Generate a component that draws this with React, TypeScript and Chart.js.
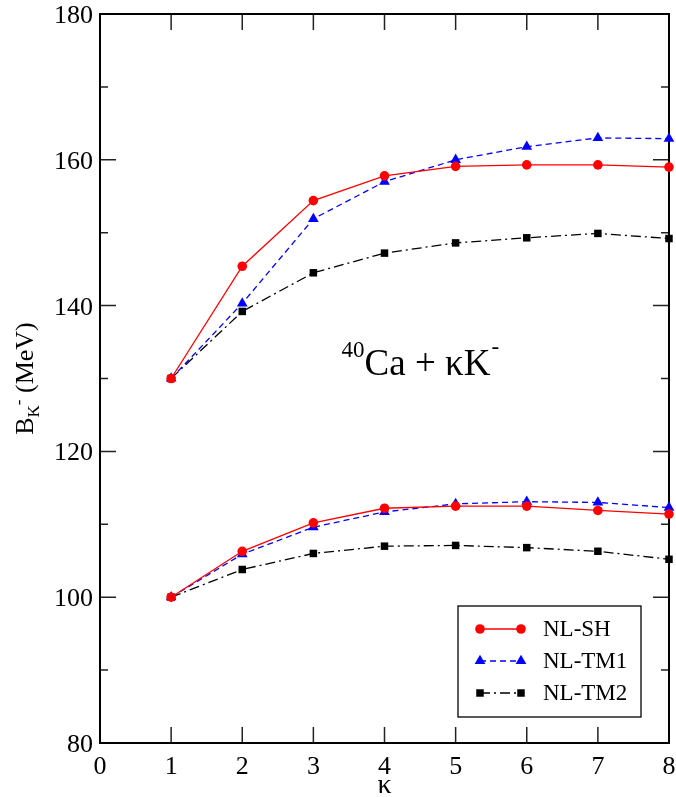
import React, { useEffect, useRef } from "react";
import { Chart, registerables } from "chart.js";

Chart.register(...registerables);

// ---- data ----
const kappa = [1, 2, 3, 4, 5, 6, 7, 8];
const shUpper = [130.0, 145.4, 154.4, 157.8, 159.1, 159.3, 159.3, 159.0];
const tm1Upper = [130.0, 140.3, 151.9, 157.0, 160.0, 161.8, 163.0, 162.9];
const tm2Upper = [130.0, 139.2, 144.5, 147.2, 148.6, 149.3, 149.9, 149.2];
const shLower = [100.0, 106.3, 110.2, 112.2, 112.5, 112.5, 111.9, 111.4];
const tm1Lower = [100.0, 105.9, 109.6, 111.7, 112.8, 113.1, 113.0, 112.3];
const tm2Lower = [100.0, 103.8, 106.0, 107.0, 107.1, 106.8, 106.3, 105.2];

const xTickValues = [0, 1, 2, 3, 4, 5, 6, 7, 8];
const yMajorTicks = [80, 100, 120, 140, 160, 180];
const yMinorTicks = [90, 110, 130, 150, 170];
const legendLabels = ["NL-SH", "NL-TM1", "NL-TM2"];

const SERIF = "'Liberation Serif', 'Times New Roman', 'DejaVu Serif', serif";

type Style = {
  color: string;
  dash: number[];
  shape: "circle" | "triangle" | "rect";
  radius: number;
};

const styles: Style[] = [
  { color: "#ff0000", dash: [], shape: "circle", radius: 4.8 },
  { color: "#0000ff", dash: [6, 4], shape: "triangle", radius: 6.2 },
  { color: "#000000", dash: [10, 4, 2, 4], shape: "rect", radius: 5.3 },
];

function pts(vals: number[]) {
  return kappa.map((k, i) => ({ x: k, y: vals[i] }));
}

function ds(vals: number[], s: Style, label: string) {
  return {
    label,
    data: pts(vals),
    borderColor: s.color,
    backgroundColor: s.color,
    borderWidth: 1.3,
    borderDash: s.dash,
    pointStyle: s.shape,
    pointRadius: s.radius,
    pointBorderWidth: 0,
    pointBackgroundColor: s.color,
    showLine: true,
    tension: 0,
    clip: false as any,
  };
}

function drawMarker(ctx: CanvasRenderingContext2D, s: Style, x: number, y: number) {
  ctx.fillStyle = s.color;
  ctx.beginPath();
  if (s.shape === "circle") {
    ctx.arc(x, y, s.radius, 0, Math.PI * 2);
  } else if (s.shape === "triangle") {
    const r = s.radius;
    ctx.moveTo(x, y - r);
    ctx.lineTo(x + r * Math.sin(Math.PI / 3), y + r * 0.5);
    ctx.lineTo(x - r * Math.sin(Math.PI / 3), y + r * 0.5);
    ctx.closePath();
  } else {
    const h = s.radius * Math.SQRT1_2;
    ctx.rect(x - h, y - h, 2 * h, 2 * h);
  }
  ctx.fill();
}

const decor = {
  id: "decor",
  beforeDatasetsDraw(chart: any) {
    const { ctx, chartArea: a, scales } = chart;
    const x = scales.x;
    const y = scales.y;
    ctx.save();
    ctx.strokeStyle = "#222";
    ctx.lineWidth = 1.5;
    ctx.beginPath();
    for (const v of xTickValues) {
      const px = x.getPixelForValue(v);
      ctx.moveTo(px, a.bottom);
      ctx.lineTo(px, a.bottom - 16);
      ctx.moveTo(px, a.top);
      ctx.lineTo(px, a.top + 16);
    }
    for (const v of yMajorTicks) {
      const py = y.getPixelForValue(v);
      ctx.moveTo(a.left, py);
      ctx.lineTo(a.left + 16, py);
      ctx.moveTo(a.right, py);
      ctx.lineTo(a.right - 16, py);
    }
    for (const v of yMinorTicks) {
      const py = y.getPixelForValue(v);
      ctx.moveTo(a.left, py);
      ctx.lineTo(a.left + 8, py);
      ctx.moveTo(a.right, py);
      ctx.lineTo(a.right - 8, py);
    }
    ctx.stroke();
    ctx.strokeStyle = "#000";
    ctx.lineWidth = 2;
    ctx.strokeRect(a.left, a.top, a.right - a.left, a.bottom - a.top);

    // tick labels
    ctx.fillStyle = "#000";
    ctx.font = `26px ${SERIF}`;
    ctx.textAlign = "center";
    ctx.textBaseline = "alphabetic";
    for (const v of xTickValues) {
      ctx.fillText(String(v), x.getPixelForValue(v), a.bottom + 31);
    }
    ctx.textAlign = "right";
    for (const v of yMajorTicks) {
      ctx.fillText(String(v), a.left - 7, y.getPixelForValue(v) + 9);
    }
    ctx.restore();
  },
  afterDraw(chart: any) {
    const { ctx, chartArea: a, scales } = chart;
    const x = scales.x;
    const y = scales.y;
    ctx.save();
    ctx.fillStyle = "#000";

    // x-axis title
    ctx.font = `28px ${SERIF}`;
    ctx.textAlign = "center";
    ctx.textBaseline = "alphabetic";
    ctx.fillText("κ", x.getPixelForValue(4), a.bottom + 50);

    // y-axis title (rotated)
    ctx.save();
    ctx.translate(33, (a.top + a.bottom) / 2);
    ctx.rotate(-Math.PI / 2);
    ctx.textAlign = "left";
    const big = `26px ${SERIF}`;
    const small = `17px ${SERIF}`;
    ctx.font = big;
    const wB = ctx.measureText("B").width;
    ctx.font = small;
    const wK = ctx.measureText("K").width;
    const wm = ctx.measureText("-").width;
    ctx.font = big;
    const wRest = ctx.measureText(" (MeV)").width;
    const total = wB + wK + wm + wRest;
    let cx = -total / 2;
    ctx.font = big;
    ctx.fillText("B", cx, 0);
    cx += wB;
    ctx.font = small;
    ctx.fillText("K", cx, 6);
    ctx.fillText("-", cx + wK, -9);
    cx += wK + wm;
    ctx.font = big;
    ctx.fillText(" (MeV)", cx, 0);
    ctx.restore();

    // annotation
    const ax = x.getPixelForValue(3.72);
    const ay = y.getPixelForValue(130.5);
    ctx.textAlign = "left";
    ctx.font = `37px ${SERIF}`;
    const main = "Ca + κK";
    const wMain = ctx.measureText(main).width;
    ctx.fillText(main, ax, ay);
    ctx.font = `23px ${SERIF}`;
    ctx.textAlign = "right";
    ctx.fillText("40", ax, ay - 18);
    ctx.textAlign = "left";
    ctx.fillText("-", ax + wMain + 1, ay - 21);

    // legend
    const bx = a.right - 211;
    const by = a.bottom - 137;
    const bw = 183;
    const bh = 111;
    ctx.lineWidth = 1.3;
    ctx.strokeStyle = "#000";
    ctx.strokeRect(bx, by, bw, bh);
    ctx.font = `23px ${SERIF}`;
    ctx.textBaseline = "middle";
    styles.forEach((s, i) => {
      const ly = by + 23 + i * 32;
      const x1 = bx + 22;
      const x2 = bx + 63;
      ctx.save();
      ctx.strokeStyle = s.color;
      ctx.lineWidth = 1.3;
      ctx.setLineDash(s.dash);
      ctx.beginPath();
      ctx.moveTo(x1, ly);
      ctx.lineTo(x2, ly);
      ctx.stroke();
      ctx.restore();
      drawMarker(ctx, s, x1, ly);
      drawMarker(ctx, s, x2, ly);
      ctx.fillStyle = "#000";
      ctx.fillText(legendLabels[i], bx + 85, ly + 1);
    });
    ctx.restore();
  },
};

export default function App() {
  const ref = useRef<HTMLCanvasElement | null>(null);
  useEffect(() => {
    if (!ref.current) return;
    let chart: Chart | null = null;
    let cancelled = false;
    const build = () => {
      if (cancelled || !ref.current) return;
      chart = new Chart(ref.current, {
        type: "scatter",
        data: {
          datasets: [
            ds(shUpper, styles[0], legendLabels[0]),
            ds(tm1Upper, styles[1], legendLabels[1]),
            ds(tm2Upper, styles[2], legendLabels[2]),
            ds(shLower, styles[0], legendLabels[0]),
            ds(tm1Lower, styles[1], legendLabels[1]),
            ds(tm2Lower, styles[2], legendLabels[2]),
          ] as any,
        },
        options: {
          responsive: false,
          animation: false,
          devicePixelRatio: 1,
          layout: { padding: { top: 14, right: 7, left: 0, bottom: 0 } },
          plugins: { legend: { display: false }, tooltip: { enabled: false } },
          scales: {
            x: {
              type: "linear",
              min: 0,
              max: 8,
              grid: { display: false, drawTicks: false },
              border: { display: false },
              ticks: { display: false },
              afterFit: (s: any) => {
                s.height = 54;
              },
            },
            y: {
              type: "linear",
              min: 80,
              max: 180,
              grid: { display: false, drawTicks: false },
              border: { display: false },
              ticks: { display: false },
              afterFit: (s: any) => {
                s.width = 100;
              },
            },
          },
        } as any,
        plugins: [decor],
      });
    };
    const fonts = (document as any).fonts;
    if (fonts && fonts.load) {
      Promise.all([
        fonts.load(`26px 'Liberation Serif'`),
        fonts.load(`26px 'Liberation Serif'`, "κ"),
      ])
        .catch(() => null)
        .then(build);
    } else {
      build();
    }
    return () => {
      cancelled = true;
      if (chart) chart.destroy();
    };
  }, []);
  return (
    <div style={{ position: "fixed", left: 0, top: 0, width: 676, height: 797, background: "#fff" }}>
      <canvas ref={ref} width={676} height={797} style={{ width: 676, height: 797, display: "block" }} />
    </div>
  );
}
